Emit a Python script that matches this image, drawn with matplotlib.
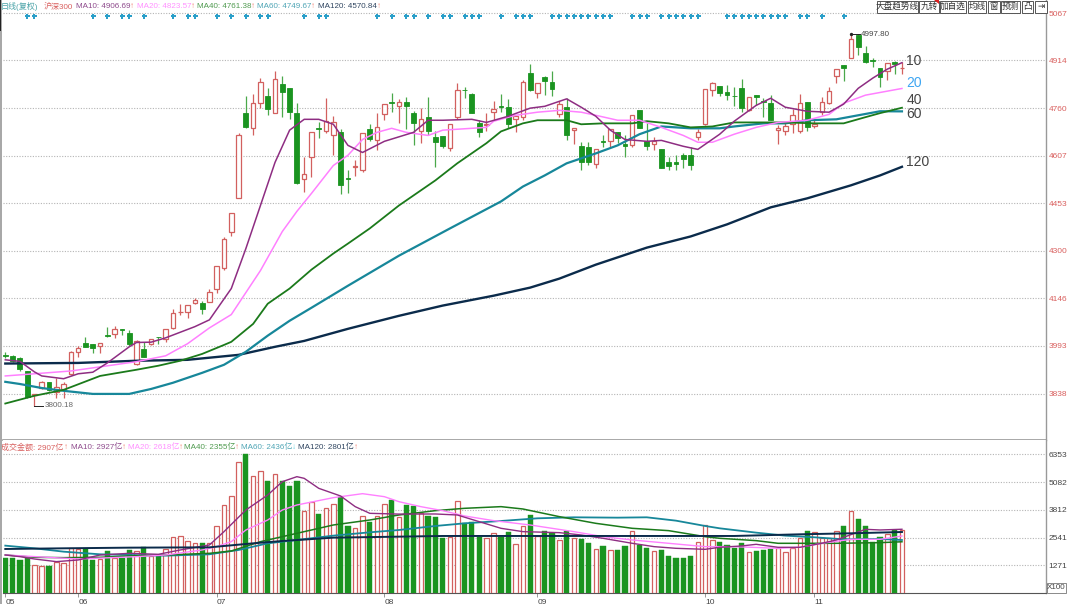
import matplotlib
matplotlib.use('Agg')
import matplotlib.pyplot as plt
from matplotlib.patches import Rectangle, Polygon

plt.rcParams['font.family'] = ['Liberation Sans', 'Noto Sans CJK SC', 'DejaVu Sans']

# daily candles, one row per day
opens = [3965, 3961, 3954, 3912, 3835, 3857, 3877, 3844, 3854, 3903,
         3974, 4003, 4000, 3993, 4027, 4032, 4048, 4035, 3935, 3984,
         4000, 4023, 4016, 4051, 4101, 4103, 4132, 4132, 4136, 4178,
         4245, 4359, 4469, 4744, 4695, 4776, 4799, 4744, 4837, 4824,
         4744, 4530, 4601, 4696, 4685, 4672, 4682, 4534, 4571, 4562,
         4692, 4656, 4740, 4780, 4766, 4779, 4744, 4685, 4731, 4666,
         4669, 4630, 4731, 4819, 4805, 4711, 4707, 4747, 4767, 4763,
         4724, 4731, 4873, 4808, 4860, 4844, 4740, 4763, 4689, 4637,
         4634, 4579, 4654, 4653, 4682, 4643, 4640, 4753, 4653, 4643,
         4627, 4585, 4585, 4608, 4608, 4666, 4708, 4818, 4831, 4811,
         4800, 4824, 4753, 4802, 4782, 4776, 4689, 4685, 4708, 4685,
         4779, 4701, 4747, 4776, 4863, 4899, 4921, 4997, 4938, 4915,
         4889, 4879, 4908, 4888]
highs = [3974, 3964, 3958, 3912, 3838, 3880, 3877, 3890, 3877, 3975,
         3993, 4022, 4000, 4003, 4054, 4058, 4048, 4045, 4013, 4006,
         4016, 4023, 4048, 4113, 4129, 4126, 4148, 4139, 4178, 4252,
         4343, 4423, 4679, 4799, 4805, 4857, 4824, 4879, 4863, 4824,
         4776, 4601, 4682, 4714, 4792, 4734, 4692, 4559, 4592, 4679,
         4708, 4744, 4773, 4808, 4789, 4795, 4750, 4760, 4795, 4685,
         4669, 4708, 4841, 4828, 4808, 4721, 4744, 4782, 4805, 4789,
         4734, 4850, 4902, 4841, 4863, 4879, 4782, 4792, 4695, 4650,
         4650, 4627, 4672, 4692, 4682, 4672, 4737, 4753, 4711, 4666,
         4627, 4601, 4608, 4615, 4634, 4692, 4821, 4844, 4831, 4834,
         4828, 4854, 4795, 4802, 4792, 4802, 4705, 4711, 4756, 4805,
         4779, 4721, 4795, 4828, 4886, 4899, 4997.80, 4997.80, 4960, 4921,
         4889, 4905, 4912, 4908]
lows = [3954, 3942, 3912, 3825, 3800.18, 3855, 3848, 3825, 3825, 3900,
        3958, 3990, 3971, 3971, 4022, 4019, 4029, 3993, 3932, 3958,
        3996, 4000, 4006, 4048, 4094, 4084, 4129, 4097, 4136, 4165,
        4239, 4349, 4469, 4695, 4672, 4760, 4737, 4744, 4731, 4724,
        4514, 4488, 4537, 4663, 4679, 4608, 4482, 4485, 4540, 4553,
        4653, 4624, 4721, 4747, 4711, 4692, 4640, 4647, 4672, 4569,
        4630, 4621, 4724, 4792, 4744, 4666, 4685, 4721, 4747, 4695,
        4682, 4721, 4815, 4792, 4802, 4799, 4731, 4656, 4643, 4559,
        4575, 4566, 4634, 4634, 4647, 4604, 4634, 4695, 4624, 4624,
        4566, 4559, 4559, 4566, 4559, 4656, 4705, 4799, 4799, 4786,
        4766, 4747, 4750, 4769, 4731, 4721, 4643, 4672, 4679, 4679,
        4685, 4695, 4737, 4773, 4841, 4847, 4921, 4931, 4905, 4892,
        4828, 4850, 4870, 4870]
closes = [3961, 3945, 3919, 3828, 3838, 3877, 3851, 3861, 3870, 3974,
          3987, 3990, 3987, 4003, 4025, 4048, 4045, 4000, 4009, 3958,
          4016, 4021, 4048, 4100, 4103, 4126, 4142, 4113, 4168, 4252,
          4339, 4423, 4672, 4698, 4776, 4844, 4756, 4854, 4811, 4747,
          4520, 4546, 4682, 4694, 4718, 4714, 4511, 4532, 4573, 4679,
          4659, 4698, 4773, 4778, 4779, 4766, 4711, 4724, 4685, 4650,
          4637, 4708, 4818, 4817, 4744, 4682, 4709, 4756, 4765, 4708,
          4734, 4844, 4818, 4841, 4847, 4821, 4773, 4672, 4695, 4585,
          4585, 4627, 4652, 4692, 4663, 4637, 4737, 4695, 4637, 4653,
          4566, 4572, 4579, 4595, 4575, 4682, 4821, 4841, 4808, 4802,
          4798, 4760, 4795, 4795, 4779, 4721, 4695, 4701, 4737, 4776,
          4698, 4708, 4779, 4815, 4886, 4889, 4983, 4957, 4908, 4912,
          4860, 4905, 4902, 4890]
volumes = [1629, 1599, 1508, 1629, 1294, 1264, 1264, 1416, 1386, 2086,
           2010, 2025, 1523, 1553, 1949, 1599, 1629, 1980, 1949, 2132,
           1721, 1721, 2025, 2558, 2635, 2391, 2284, 2284, 2284, 3091,
           4020, 4432, 5985, 6351, 5345, 5604, 5147, 5437, 5147, 4904,
           5147, 3746, 4188, 3609, 3899, 4081, 4416, 3061, 2970, 3533,
           3274, 3533, 4066, 4279, 3503, 4051, 4006, 3655, 3533, 3503,
           2544, 2559, 4204, 3198, 3275, 2589, 2528, 2742, 2589, 2818,
           2270, 3077, 3594, 2635, 2848, 2772, 2422, 2863, 2528, 2483,
           2300, 2010, 2148, 1965, 1995, 2178, 2833, 2209, 2056, 1919,
           1965, 1706, 1630, 1630, 1691, 2330, 3107, 2437, 2330, 2193,
           2056, 2285, 1873, 1934, 1965, 2026, 2056, 1904, 2056, 2528,
           2848, 2818, 2528, 2513, 2833, 3092, 3762, 3397, 3061, 2361,
           2559, 2696, 2894, 2907]

ma10_days = [0, 2, 4, 5, 8, 10, 12, 14, 17, 18, 20, 22, 26, 28, 31, 33, 35, 37, 39, 41,
             43, 45, 47, 49, 52, 56, 58, 60, 64, 66, 69, 72, 74, 77, 79, 81, 83, 85, 88, 90,
             93, 95, 98, 100, 103, 105, 107, 110, 113, 115, 117, 119, 121, 123]
ma10_price = [3948, 3943, 3909, 3896, 3887, 3903, 3908, 3938, 3990, 4004, 4005, 4019, 4055, 4077, 4178, 4307, 4446, 4585, 4689, 4724,
              4724, 4708, 4640, 4617, 4653, 4682, 4721, 4721, 4724, 4714, 4734, 4760, 4766, 4790, 4763, 4734, 4689, 4659, 4653, 4656,
              4637, 4627, 4676, 4718, 4769, 4792, 4763, 4750, 4747, 4773, 4824, 4857, 4886, 4906.69]
ma20_days = [0, 4, 9, 12, 18, 22, 25, 28, 31, 33, 35, 38, 40, 42, 45, 47, 49, 51, 53, 55,
             58, 60, 64, 66, 67, 70, 73, 76, 79, 81, 84, 87, 90, 93, 95, 97, 100, 103, 106, 110,
             113, 115, 118, 123]
ma20_price = [3896, 3903, 3912, 3922, 3942, 3961, 4000, 4051, 4094, 4165, 4236, 4362, 4427, 4485, 4575, 4608, 4659, 4682, 4695, 4682,
              4672, 4689, 4695, 4698, 4718, 4737, 4747, 4753, 4747, 4737, 4721, 4721, 4698, 4672, 4650, 4650, 4676, 4698, 4714, 4721,
              4740, 4776, 4802, 4823.57]
ma40_days = [0, 4, 8, 13, 18, 21, 24, 27, 30, 31, 34, 36, 39, 42, 45, 47, 50, 54, 59, 62,
             66, 68, 71, 73, 77, 79, 82, 86, 88, 91, 94, 97, 100, 104, 107, 111, 115, 118, 120, 123]
ma40_price = [3807, 3832, 3851, 3896, 3916, 3929, 3945, 3967, 3996, 4006, 4064, 4129, 4178, 4239, 4291, 4323, 4372, 4446, 4527, 4582,
              4647, 4685, 4711, 4721, 4721, 4708, 4711, 4711, 4718, 4711, 4698, 4701, 4714, 4714, 4714, 4711, 4711, 4731, 4744, 4761.38]
ma60_days = [0, 2, 5, 8, 12, 17, 20, 23, 27, 30, 33, 36, 39, 42, 47, 54, 61, 68, 71, 74,
             77, 81, 84, 87, 90, 94, 98, 100, 104, 107, 110, 114, 117, 120, 123]
ma60_price = [3877, 3870, 3857, 3848, 3838, 3838, 3854, 3874, 3906, 3932, 3974, 4026, 4074, 4116, 4187, 4284, 4372, 4459, 4507, 4543,
              4582, 4614, 4640, 4676, 4701, 4695, 4695, 4701, 4711, 4711, 4721, 4724, 4737, 4750, 4749.67]
ma120_days = [0, 10, 18, 25, 32, 37, 41, 47, 54, 60, 67, 72, 76, 81, 88, 94, 99, 105, 110, 116,
              120, 123]
ma120_price = [3936, 3938, 3945, 3948, 3964, 3990, 4009, 4048, 4090, 4123, 4155, 4181, 4210, 4255, 4310, 4346, 4385, 4440, 4469, 4511,
               4543, 4570.84]

vma10_days = [0, 2, 4, 7, 10, 13, 17, 21, 24, 28, 30, 33, 36, 38, 40, 41, 43, 46, 48, 50,
              54, 59, 62, 65, 68, 71, 76, 79, 82, 86, 89, 92, 96, 98, 101, 103, 106, 109, 112, 114,
              118, 120, 123]
vma10_vals = [1751, 1675, 1568, 1447, 1523, 1751, 1827, 1782, 1980, 2208, 2817, 3807, 4493, 5102, 5330, 5254, 4797, 4447, 3960, 3655,
              3620, 3625, 3579, 3275, 2970, 2818, 2772, 2665, 2513, 2285, 2132, 2056, 2010, 2102, 2163, 2239, 2102, 2102, 2285, 2437,
              2924, 2894, 2927]
vma20_days = [0, 10, 18, 22, 27, 29, 31, 33, 36, 38, 40, 45, 49, 52, 54, 57, 60, 63, 67, 72,
              75, 78, 82, 86, 91, 96, 100, 106, 109, 112, 116, 120, 123]
vma20_vals = [1751, 1568, 1675, 1751, 1980, 2132, 2360, 2893, 3350, 3807, 4036, 4371, 4553, 4416, 4188, 3960, 3777, 3534, 3320, 3122,
              2970, 2818, 2589, 2437, 2285, 2132, 2132, 2056, 2102, 2285, 2467, 2467, 2618]
vma40_days = [0, 4, 8, 13, 17, 22, 28, 31, 35, 40, 45, 50, 54, 59, 63, 68, 71, 76, 81, 86,
              91, 96, 98, 103, 106, 110, 114, 120, 123]
vma40_vals = [1751, 1645, 1629, 1645, 1706, 1751, 1827, 1934, 2360, 2741, 3122, 3350, 3579, 3777, 3884, 3960, 3853, 3503, 3198, 2970,
              2863, 2589, 2513, 2407, 2285, 2285, 2285, 2315, 2355]
vma60_days = [0, 4, 8, 13, 17, 22, 28, 32, 36, 40, 45, 50, 54, 59, 63, 68, 73, 78, 84, 88,
              92, 96, 98, 103, 107, 111, 115, 120, 123]
vma60_vals = [2178, 2056, 1903, 1782, 1751, 1721, 1782, 1980, 2284, 2437, 2635, 2787, 2893, 3077, 3198, 3305, 3427, 3473, 3457, 3473,
              3320, 3077, 2970, 2772, 2635, 2559, 2467, 2483, 2436]
vma120_days = [0, 8, 17, 28, 34, 38, 45, 54, 60, 80, 100, 109, 116, 123]
vma120_vals = [2025, 2056, 2086, 2101, 2284, 2391, 2543, 2589, 2620, 2620, 2620, 2696, 2742, 2801]

# blue markers along the top
marker_days = [3, 4, 12, 14, 16, 17, 19, 23, 25, 26, 29, 31, 33, 35, 36, 41, 43, 44, 51, 53,
               55, 56, 58, 60, 61, 63, 64, 65, 68, 70, 71, 72, 75, 76, 77, 78, 79, 80, 81, 82,
               83, 86, 87, 88, 90, 91, 92, 93, 94, 95, 99, 100, 101, 102, 103, 104, 105, 106, 107, 109,
               110, 112, 115]

price_ticks = [5067, 4914, 4760, 4607, 4453, 4300, 4146, 3993, 3838]
vol_ticks = [6353, 5082, 3812, 2541, 1271]
month_days = [0, 10, 29, 52, 73, 96, 111]
month_labels = ['05', '06', '07', '08', '09', '10', '11']

header_top = [(1, '日线(复权)', '#4aa3a8'), (44, '沪深300', '#d9605f'),
              (76, 'MA10: 4906.69', '#8e4a8c'), (130, '↑', '#f08070'),
              (137, 'MA20: 4823.57', '#ff90ff'), (191, '↑', '#f08070'),
              (197, 'MA40: 4761.38', '#4f9a4f'), (251, '↑', '#f08070'),
              (257, 'MA60: 4749.67', '#4fa5b5'), (311, '↑', '#f08070'),
              (318, 'MA120: 4570.84', '#2f4560'), (377, '↑', '#f08070')]
header_bottom = [(1, '成交金额: 2907亿', '#d9605f'), (64, '↑', '#f08070'),
                 (71, 'MA10: 2927亿', '#8e4a8c'), (122, '↑', '#f08070'),
                 (128, 'MA20: 2618亿', '#ff90ff'), (179, '↑', '#f08070'),
                 (184, 'MA40: 2355亿', '#4f9a4f'), (235, '↑', '#f08070'),
                 (241, 'MA60: 2436亿', '#4fa5b5'), (292, '↓', '#60d0e0'),
                 (298, 'MA120: 2801亿', '#2f4560'), (354, '↑', '#f08070')]
buttons = [(877, 918, '大盘趋势线'), (919, 939, '九转'), (940, 966, '加自选'), (968, 986, '均线'),
           (988, 1000, '窗'), (1001, 1020, '预测'), (1022, 1033, '凸'), (1035, 1047, '⇥')]

RED = '#d2605f'
GREEN = '#1a9420'
GREEN_WICK = '#4aa84a'
C10 = '#8e2d82'
C20 = '#ff80ff'
C40 = '#1b7a1b'
C60 = '#17879a'
C120 = '#0b2b4b'
GRID = '#b4b4b4'
FS = 5.8

W, H = 1080, 604
fig = plt.figure(figsize=(W / 100, H / 100), dpi=100, facecolor='white')


def px_axes(x0, y0, x1, y1):
    return fig.add_axes([x0 / W, 1 - y1 / H, (x1 - x0) / W, (y1 - y0) / H])


def px_text(x, y, s, color, size=FS, **kw):
    fig.text(x / W, 1 - y / H, s, color=color, fontsize=size, va='center', **kw)


ax = px_axes(3, 0, 1046, 440)
ax2 = px_axes(3, 440, 1046, 593.3)
days = list(range(len(opens)))

# candles: wick behind, hollow body for up days, solid for down days
for i in days:
    up = closes[i] >= opens[i]
    ax.vlines(i, lows[i], highs[i], color=RED if up else GREEN_WICK, lw=0.9, zorder=2)
    bottom = min(opens[i], closes[i])
    height = abs(closes[i] - opens[i])
    if up:
        ax.bar(i, height, 0.62, bottom=bottom, facecolor='white', edgecolor=RED, lw=0.9, zorder=3)
        ax2.bar(i, volumes[i], 0.62, facecolor='white', edgecolor=RED, lw=0.9, zorder=3)
    else:
        ax.bar(i, height, 0.66, bottom=bottom, facecolor=GREEN, edgecolor=GREEN, lw=0.6, zorder=3)
        ax2.bar(i, volumes[i], 0.72, facecolor=GREEN, edgecolor=GREEN, lw=0.3, zorder=3)

ax.plot(ma120_days, ma120_price, color=C120, lw=1.7, zorder=4)
ax.plot(ma60_days, ma60_price, color=C60, lw=1.6, zorder=5)
ax.plot(ma40_days, ma40_price, color=C40, lw=1.3, zorder=6)
ax.plot(ma20_days, ma20_price, color=C20, lw=1.1, zorder=7)
ax.plot(ma10_days, ma10_price, color=C10, lw=1.1, zorder=8)

ax2.plot(vma60_days, vma60_vals, color=C60, lw=1.3, zorder=4)
ax2.plot(vma40_days, vma40_vals, color=C40, lw=1.1, zorder=5)
ax2.plot(vma20_days, vma20_vals, color=C20, lw=1.0, zorder=6)
ax2.plot(vma10_days, vma10_vals, color=C10, lw=1.0, zorder=7)
ax2.plot(vma120_days, vma120_vals, color=C120, lw=1.4, zorder=8)

ax.plot(marker_days, [5057] * len(marker_days), ls='none', marker='P', ms=3.6, color='#2a9fc9',
        mew=0, zorder=5)

# high / low notes
ax.plot([116, 117.2], [4997.80, 4997.80], color='#222222', lw=0.7, zorder=9)
ax.plot([116], [4997.80], marker='o', ms=1.4, color='#222222', zorder=9)
ax.text(117.4, 4997.80, '4997.80', fontsize=FS, color='#444444', va='center', zorder=9)
ax.plot([4, 5.2], [3800.18, 3800.18], color='#222222', lw=0.7, zorder=9)
ax.text(5.4, 3800.18, '3800.18', fontsize=FS, color='#666666', va='center', zorder=9)

# ma period labels at the end of the lines
ax.text(123.6, 4912, '10', fontsize=10, color='#444444', va='center')
ax.text(123.6, 4841, '20', fontsize=10, color='#3fa6f2', va='center')
ax.text(123.6, 4786, '40', fontsize=10, color='#444444', va='center')
ax.text(123.6, 4741, '60', fontsize=10, color='#444444', va='center')
ax.text(123.6, 4585, '120', fontsize=10, color='#444444', va='center')

xlim = (-0.3155, 142.76)
ax.set_xlim(xlim)
ax.set_ylim(3689.3, 5109)
ax2.set_xlim(xlim)
ax2.set_ylim(0, 7006)

for a, ticks, col in [(ax, price_ticks, '#d9605f'), (ax2, vol_ticks, '#444444')]:
    a.set_yticks(ticks)
    a.set_yticklabels([str(t) for t in ticks], fontsize=FS + 0.2, color=col)
    a.yaxis.tick_right()
    a.tick_params(axis='y', length=0, pad=2)
    a.grid(axis='y', color=GRID, ls=(0, (1, 1.4)), lw=0.8, zorder=1)
    a.set_axisbelow(True)
    for s in ['top', 'right', 'left', 'bottom']:
        a.spines[s].set_visible(False)
    a.spines['right'].set_visible(True)
    a.spines['right'].set_color('#999999')
    a.spines['right'].set_linewidth(1)

ax.set_xticks([])
ax.spines['bottom'].set_visible(True)
ax.spines['bottom'].set_color('#999999')
ax.spines['bottom'].set_linewidth(1.2)

ax2.spines['bottom'].set_visible(True)
ax2.spines['bottom'].set_color('#555555')
ax2.set_xticks(month_days)
ax2.set_xticklabels(month_labels, fontsize=FS + 0.2, color='#444444', ha='left')
ax2.tick_params(axis='x', length=3, width=0.6, color='#888888', pad=1, direction='out')

# toolbar and headers sit outside the data, placed in figure pixels
for x0, x1, label in buttons:
    fig.add_artist(Rectangle((x0 / W, 1 - 12.5 / H), (x1 - x0) / W, 12 / H, transform=fig.transFigure,
                             facecolor='white', edgecolor='#555555', lw=0.7, zorder=20))
    fig.text((x0 + x1) / 2 / W, 1 - 6.5 / H, label, fontsize=6.2, color='#333333', ha='center',
             va='center', zorder=21, clip_on=True)
fig.add_artist(Polygon([[934 / W, 1], [938.5 / W, 1], [938.5 / W, 1 - 4 / H]], transform=fig.transFigure,
                       facecolor='#e02020', edgecolor='none', zorder=22))

for x, s, c in header_top:
    px_text(x, 6.5, s, c)
for x, s, c in header_bottom:
    px_text(x, 447.5, s, c)

# left edge of the window and the X100 box
fig.add_artist(Rectangle((0, 0), 2 / W, 1, transform=fig.transFigure, facecolor='#a8a8a8',
                         edgecolor='none', zorder=20))
fig.add_artist(Rectangle((0, 1 - 31 / H), 1.2 / W, 31 / H, transform=fig.transFigure, facecolor='#222222',
                         edgecolor='none', zorder=21))
fig.add_artist(Rectangle((1047 / W, 1 - 592.5 / H), 19 / W, 10 / H, transform=fig.transFigure,
                         facecolor='white', edgecolor='#777777', lw=0.6, zorder=20))
fig.text(1056.5 / W, 1 - 587.5 / H, 'X100', fontsize=FS, color='#444444', ha='center', va='center', zorder=21)

fig.savefig('out.png', dpi=100)
